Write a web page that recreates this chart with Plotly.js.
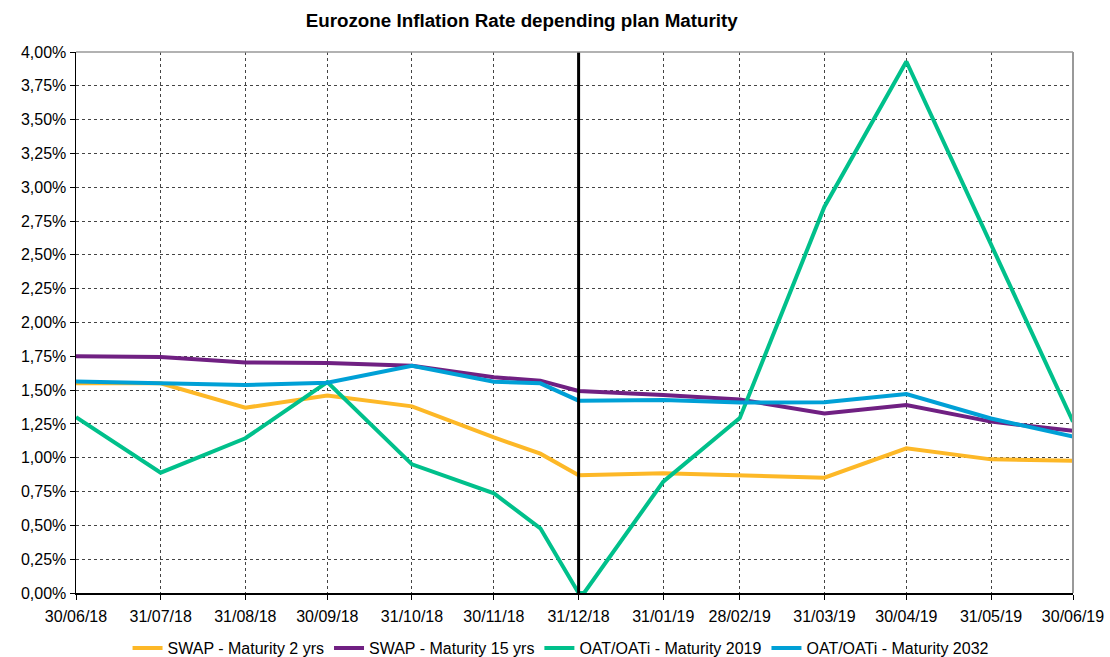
<!DOCTYPE html>
<html>
<head>
<meta charset="utf-8">
<script src="https://cdn.plot.ly/plotly-3.0.1.min.js"></script>
<style>html,body{margin:0;padding:0;background:#fff;}#chart{width:1110px;height:657px;}</style>
</head>
<body>
<div id="chart"></div>
<script>
// Dates (x)
const datesMain = ["2018-06-30","2018-07-31","2018-08-31","2018-09-30","2018-10-31","2018-11-30","2018-12-17","2018-12-31","2019-01-31","2019-02-28","2019-03-31","2019-04-30","2019-05-31","2019-06-30"];
const datesGreen = ["2018-06-30","2018-07-31","2018-08-31","2018-09-30","2018-10-31","2018-11-30","2018-12-17","2018-12-31","2019-01-02","2019-01-31","2019-02-28","2019-03-31","2019-04-30","2019-05-31","2019-06-30"];

// Series values (%)
const swap2 = [1.55, 1.55, 1.37, 1.46, 1.38, 1.15, 1.03, 0.87, 0.885, 0.867, 0.853, 1.07, 0.988, 0.978];
const swap15 = [1.75, 1.745, 1.705, 1.70, 1.68, 1.595, 1.57, 1.494, 1.464, 1.43, 1.328, 1.39, 1.267, 1.20];
const oat2019 = [1.30, 0.89, 1.144, 1.56, 0.951, 0.737, 0.478, 0.0, 0.0, 0.823, 1.293, 2.856, 3.93, 2.585, 1.267];
const oat2032 = [1.563, 1.55, 1.538, 1.555, 1.68, 1.562, 1.55, 1.422, 1.427, 1.409, 1.41, 1.471, 1.29, 1.156];

const seriesNames = ["SWAP - Maturity 2 yrs","SWAP - Maturity 15 yrs","OAT/OATi - Maturity 2019","OAT/OATi - Maturity 2032"];
const tickDates = ["2018-06-30","2018-07-31","2018-08-31","2018-09-30","2018-10-31","2018-11-30","2018-12-31","2019-01-31","2019-02-28","2019-03-31","2019-04-30","2019-05-31","2019-06-30"];
const yTicks = [0,0.25,0.5,0.75,1,1.25,1.5,1.75,2,2.25,2.5,2.75,3,3.25,3.5,3.75,4];
const yTickText = yTicks.map(v => v.toFixed(2).replace('.', ',') + '%');
const markerDate = "2018-12-31";

const colors = ["#FDB827","#702082","#00C08B","#00A0D6"];
const mk = (x,y,i)=>({x:x,y:y,name:seriesNames[i],type:'scatter',mode:'lines',line:{color:colors[i],width:4},hoverinfo:'x+y'});
const data = [mk(datesMain,swap2,0),mk(datesMain,swap15,1),mk(datesGreen,oat2019,2),mk(datesMain,oat2032,3)];

const FONT = 'Liberation Sans, Arial, sans-serif';
const layout = {
  width:1110, height:657,
  margin:{l:76,r:37,t:52,b:64,autoexpand:false},
  paper_bgcolor:'#fff', plot_bgcolor:'#fff',
  font:{family:FONT,size:15,color:'#000'},
  title:{text:'<b>Eurozone Inflation Rate depending plan Maturity</b>',x:0.47,xanchor:'center',xref:'container',y:0.969,yanchor:'middle',font:{size:18.8,family:FONT,color:'#000'}},
  xaxis:{type:'date',range:['2018-06-30','2019-06-30'],tickvals:tickDates,tickformat:'%d/%m/%y',
    showgrid:true,gridcolor:'#444',griddash:'dot',gridwidth:1,
    showline:true,linecolor:'#000',linewidth:1.5,ticks:'outside',ticklen:5,tickcolor:'#000',
    tickfont:{size:16},zeroline:false,fixedrange:true,automargin:false,ticklabelstandoff:3},
  yaxis:{range:[0,4],tickmode:'array',tickvals:yTicks,ticktext:yTickText,
    showgrid:true,gridcolor:'#444',griddash:'dot',gridwidth:1,
    showline:true,linecolor:'#000',linewidth:1.5,ticks:'outside',ticklen:5,tickcolor:'#000',
    tickfont:{size:16},zeroline:false,fixedrange:true,automargin:false},
  shapes:[
    {type:'line',xref:'x',yref:'y',x0:markerDate,x1:markerDate,y0:0,y1:4,line:{color:'#000',width:3}},
    {type:'line',xref:'paper',yref:'paper',x0:0,x1:1,y0:1,y1:1,line:{color:'#999',width:1.5}},
    {type:'line',xref:'paper',yref:'paper',x0:1,x1:1,y0:0,y1:1,line:{color:'#999',width:2}}
  ],
  legend:{orientation:'h',xref:'container',x:0.505,xanchor:'center',yref:'paper',y:-0.102,yanchor:'middle',font:{size:16},tracegroupgap:0},
  showlegend:true
};
Plotly.newPlot('chart',data,layout,{displayModeBar:false,staticPlot:true});
</script>
</body>
</html>
